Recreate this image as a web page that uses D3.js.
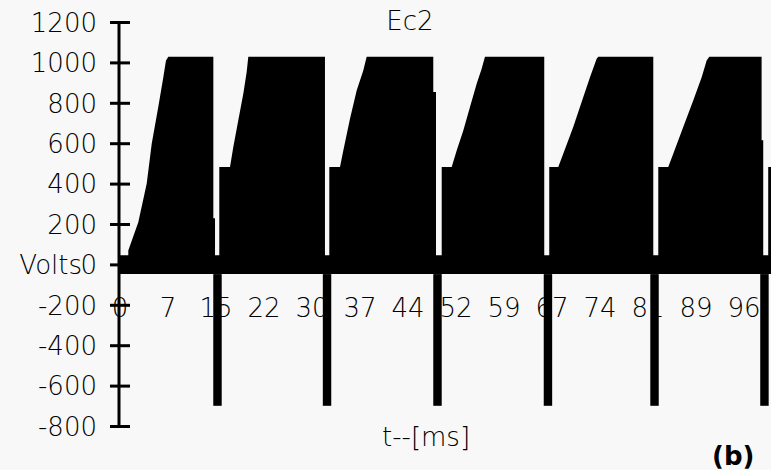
<!DOCTYPE html>
<html>
<head>
<meta charset="utf-8">
<script src="https://cdn.jsdelivr.net/npm/d3@7"></script>
<style>
  html, body { margin: 0; padding: 0; background: #f8f8f8; }
  svg { display: block; }
  text { font-family: "DejaVu Sans", sans-serif; fill: #000; }
  .lt { font-weight: 300; }
</style>
</head>
<body>
<svg id="chart" width="771" height="470"></svg>
<script>
// Ec2 waveform: fast switching between a negative floor and a rising envelope,
// with a deep negative pulse at the start of every cycle.

// Envelope of the switching waveform (time in ms, volts)
const envTime = [
  0, 1.28, 1.28, 2.82, 4.12, 4.89, 5.90, 6.68, 7.09, 7.45, 14.39, 14.39, 14.65, 14.65, 15.31,
  15.31, 16.96, 17.47, 18.24, 19.01, 19.53, 19.78, 31.60, 31.60, 32.27,
  32.27, 33.92, 34.43, 35.46, 36.49, 37.51, 38.03, 48.30, 48.30, 48.72, 48.72, 49.60,
  49.60, 51.14, 51.91, 52.93, 53.96, 54.99, 55.76, 56.27, 65.41, 65.41, 66.18,
  66.18, 67.57, 68.34, 69.88, 71.42, 72.46, 73.49, 73.74, 82.22, 82.22, 82.99,
  82.99, 84.53, 85.30, 86.84, 88.38, 89.68, 90.45, 90.85, 98.92, 98.92, 99.17, 99.17, 99.94,
  99.94, 100.4
];
const envVolts = [
  45, 45, 69, 209, 400, 597, 779, 927, 1010, 1028, 1028, 228, 228, 45, 45,
  482, 482, 581, 713, 845, 952, 1028, 1028, 45, 45,
  482, 482, 564, 721, 861, 960, 1028, 1028, 853, 853, 45, 45,
  482, 482, 564, 663, 779, 894, 969, 1028, 1028, 45, 45,
  482, 482, 548, 680, 828, 927, 1018, 1028, 1028, 45, 45,
  482, 482, 548, 680, 812, 927, 1010, 1028, 1028, 614, 614, 45, 45,
  482, 482
];
const floorVolts = -48;

// Negative pulses at each cycle start
const spikeTime = [15.03, 31.92, 48.95, 65.98, 82.41, 99.36];
const spikeVolts = [-700, -700, -700, -700, -700, -700];
const spikeWidthMs = 1.3;

// Axis ticks
const yTicks = [-800, -600, -400, -200, 0, 200, 400, 600, 800, 1000, 1200];
const xTicks = [0, 7.4, 14.8, 22.2, 29.6, 37, 44.4, 51.8, 59.2, 66.6, 74, 81.4, 88.8, 96.2];
const xTickLabels = ["0", "7", "15", "22", "30", "37", "44", "52", "59", "67", "74", "81", "89", "96"];

const svg = d3.select("#chart");
const FS = 26;

const x = d3.scaleLinear().domain([0, 100.4]).range([120, 771.2]);
const y = d3.scaleLinear().domain([-800, 1200]).range([426, 22]);

svg.append("rect").attr("width", 771).attr("height", 470).attr("fill", "#f8f8f8");

// Time tick labels sit on the -200 row, underneath the pulses
svg.append("g").selectAll("text").data(xTicks).join("text")
  .attr("class", "lt")
  .attr("x", d => x(d))
  .attr("y", y(-200) + 3)
  .attr("dy", "0.36em")
  .attr("text-anchor", "middle")
  .attr("font-size", FS)
  .text((d, i) => xTickLabels[i]);

// Filled waveform
const pts = envTime.map((t, i) => [t, envVolts[i]]);
const area = d3.area()
  .x(d => x(d[0]))
  .y0(y(floorVolts))
  .y1(d => y(d[1]));
svg.append("path").datum(pts).attr("d", area).attr("fill", "#000");

// Negative pulses
svg.append("g").selectAll("rect").data(spikeTime).join("rect")
  .attr("x", d => x(d - spikeWidthMs / 2))
  .attr("width", x(spikeWidthMs) - x(0))
  .attr("y", y(floorVolts))
  .attr("height", (d, i) => y(spikeVolts[i]) - y(floorVolts))
  .attr("fill", "#000");

// Vertical axis with ticks crossing the line
const yAxis = d3.axisLeft(y).tickValues(yTicks).tickSize(0).tickPadding(0)
  .tickFormat(d => String(d).replace("\u2212", "-"));
const gy = svg.append("g").attr("transform", `translate(${x(0) - 1},0)`).call(yAxis);
gy.select(".domain").remove();
gy.selectAll(".tick text")
  .attr("class", "lt")
  .attr("x", -22)
  .attr("dy", "0.36em")
  .attr("font-size", FS)
  .attr("font-family", "DejaVu Sans, sans-serif")
  .attr("fill", "#000");
gy.selectAll(".tick").append("line")
  .attr("x1", -9).attr("x2", 11)
  .attr("stroke", "#000").attr("stroke-width", 3);
gy.append("line")
  .attr("x1", 0).attr("x2", 0)
  .attr("y1", y(1200)).attr("y2", y(-800))
  .attr("stroke", "#000").attr("stroke-width", 3);

// Axis titles
svg.append("text")
  .attr("class", "lt")
  .attr("x", x(0) - 38).attr("y", y(0)).attr("dy", "0.36em")
  .attr("text-anchor", "end").attr("font-size", FS)
  .text("Volts");

svg.append("text")
  .attr("class", "lt")
  .attr("x", 410).attr("y", 30)
  .attr("text-anchor", "middle").attr("font-size", FS)
  .text("Ec2");

svg.append("text")
  .attr("class", "lt")
  .attr("x", 426).attr("y", 446)
  .attr("text-anchor", "middle").attr("font-size", FS)
  .text("t--[ms]");

svg.append("text")
  .attr("x", 712).attr("y", 465)
  .attr("font-size", FS).attr("font-weight", "bold")
  .text("(b)");
</script>
</body>
</html>
